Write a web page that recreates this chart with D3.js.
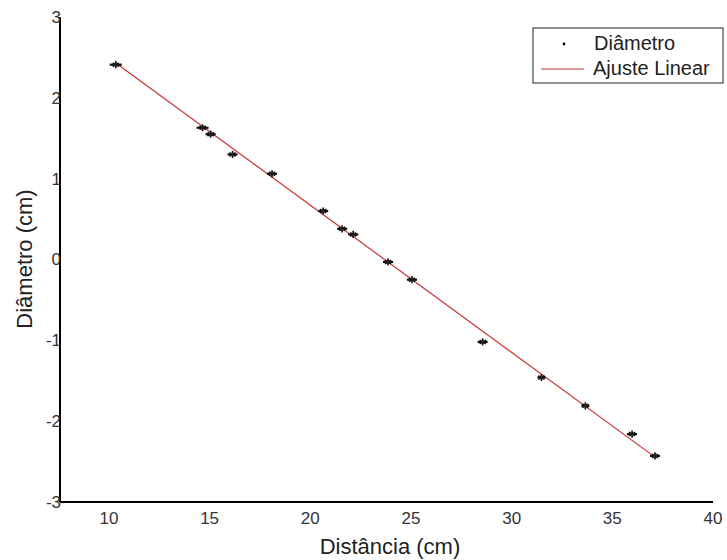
<!DOCTYPE html>
<html lang="pt">
<head>
  <meta charset="UTF-8">
  <title>Diâmetro x Distância</title>
  <style>
    body { margin: 0; background: #ffffff; }
    svg { font-family: "Liberation Sans", Arial, sans-serif; }
  </style>
  <script type="text/javascript" src="https://d3js.org/d3.v7.min.js"></script>
</head>
<body>
</body>
<script type="text/javascript">

  // measured points
  var distancia = [10.34, 14.65, 15.05, 16.14, 18.1, 20.64, 21.58, 22.13, 23.86, 25.05, 28.56, 31.48, 33.66, 35.98, 37.12];
  var diametro = [2.41, 1.63, 1.55, 1.30, 1.06, 0.60, 0.38, 0.31, -0.03, -0.25, -1.02, -1.46, -1.81, -2.16, -2.43];
  var erroX = [0.3, 0.3, 0.25, 0.25, 0.25, 0.25, 0.25, 0.25, 0.25, 0.25, 0.25, 0.2, 0.2, 0.25, 0.25];

  // linear fit endpoints
  var ajusteX = [10.34, 37.12];
  var ajusteY = [2.43, -2.445];

  var xTicks = [10, 15, 20, 25, 30, 35, 40];
  var yTicks = [-3, -2, -1, 0, 1, 2, 3];

  var width = 727, height = 560;
  var plot = {left: 60, right: 713, top: 17, bottom: 502};

  var svg = d3.select("body")
    .append("svg")
    .attr("width", width)
    .attr("height", height);

  var x = d3.scaleLinear().domain([7.57, 40]).range([plot.left, plot.right]);
  var y = d3.scaleLinear().domain([-3, 3]).range([plot.bottom, plot.top]);

  // fit line
  svg.append("line")
    .attr("x1", x(ajusteX[0]))
    .attr("y1", y(ajusteY[0]))
    .attr("x2", x(ajusteX[1]))
    .attr("y2", y(ajusteY[1]))
    .attr("stroke", "#c83232")
    .attr("stroke-width", 1.2);

  // points with horizontal error bars
  var pts = svg.append("g").attr("id", "points")
    .selectAll("g")
    .data(distancia.map(function(d, i) { return {x: d, y: diametro[i], e: erroX[i]}; }))
    .enter()
    .append("g")
    .attr("transform", function(d) { return "translate(" + x(d.x) + "," + y(d.y) + ")"; });

  pts.append("line")
    .attr("x1", function(d) { return x(d.x - d.e) - x(d.x); })
    .attr("x2", function(d) { return x(d.x + d.e) - x(d.x); })
    .attr("y1", 0).attr("y2", 0)
    .attr("stroke", "#111")
    .attr("stroke-width", 2.2);

  pts.append("path")
    .attr("d", d3.symbol().type(d3.symbolAsterisk || d3.symbolCross).size(36))
    .attr("fill", "none")
    .attr("stroke", "#111")
    .attr("stroke-width", 1.6);

  pts.append("circle")
    .attr("r", 1.8)
    .attr("fill", "#222");

  // axes: spines and labels only
  svg.append("line")
    .attr("x1", plot.left).attr("x2", plot.left)
    .attr("y1", plot.top).attr("y2", plot.bottom)
    .attr("stroke", "#000").attr("stroke-width", 2);
  svg.append("line")
    .attr("x1", plot.left).attr("x2", plot.right)
    .attr("y1", plot.bottom).attr("y2", plot.bottom)
    .attr("stroke", "#000").attr("stroke-width", 2);

  svg.append("g").selectAll("text")
    .data(yTicks)
    .enter()
    .append("text")
    .attr("x", plot.left + 1)
    .attr("y", function(d) { return y(d); })
    .attr("dy", "0.35em")
    .attr("text-anchor", "end")
    .attr("font-size", 17)
    .attr("fill", "#333")
    .text(function(d) { return d; });

  svg.append("g").selectAll("text")
    .data(xTicks)
    .enter()
    .append("text")
    .attr("x", function(d) { return x(d); })
    .attr("y", plot.bottom + 16)
    .attr("dy", "0.35em")
    .attr("text-anchor", "middle")
    .attr("font-size", 17)
    .attr("fill", "#333")
    .text(function(d) { return d; });

  svg.append("text")
    .attr("x", 390)
    .attr("y", 546)
    .attr("dy", "0.35em")
    .attr("text-anchor", "middle")
    .attr("font-size", 22)
    .attr("fill", "#222")
    .text("Distância (cm)");

  svg.append("text")
    .attr("transform", "translate(24,259) rotate(-90)")
    .attr("dy", "0.35em")
    .attr("text-anchor", "middle")
    .attr("font-size", 22)
    .attr("fill", "#222")
    .text("Diâmetro (cm)");

  // legend
  var legend = svg.append("g").attr("id", "legend").attr("transform", "translate(533,28)");
  legend.append("rect")
    .attr("width", 190).attr("height", 55)
    .attr("fill", "#fff").attr("stroke", "#222").attr("stroke-width", 1);
  legend.append("circle")
    .attr("cx", 31).attr("cy", 16).attr("r", 1.4).attr("fill", "#000");
  legend.append("line")
    .attr("x1", 8).attr("x2", 51).attr("y1", 41).attr("y2", 41)
    .attr("stroke", "#c83232").attr("stroke-width", 1.2);
  legend.append("text")
    .attr("x", 61).attr("y", 15).attr("dy", "0.35em")
    .attr("font-size", 20).attr("fill", "#222")
    .text("Diâmetro");
  legend.append("text")
    .attr("x", 60).attr("y", 40).attr("dy", "0.35em")
    .attr("font-size", 20).attr("fill", "#222")
    .text("Ajuste Linear");

</script>
</html>
